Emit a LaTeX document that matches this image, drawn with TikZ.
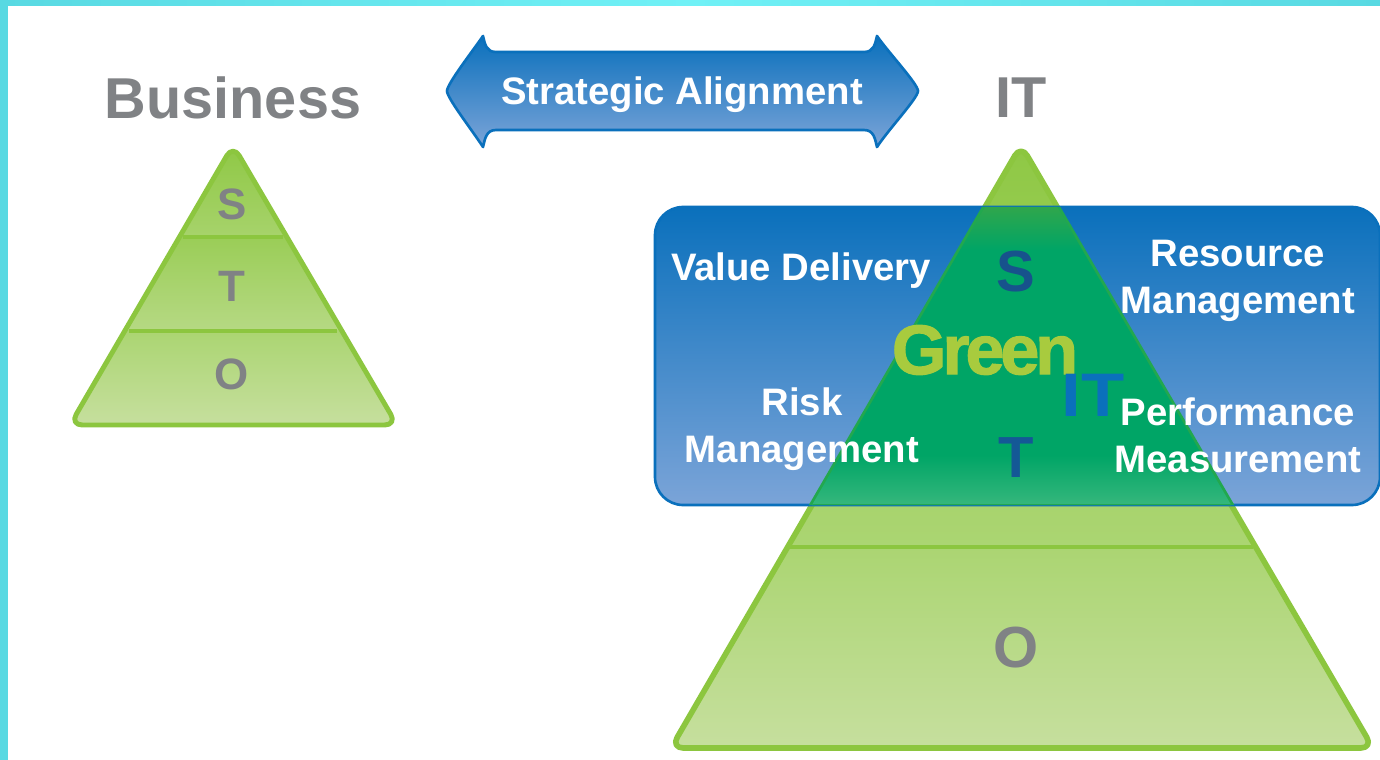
\documentclass[tikz,border=0pt]{standalone}
\usepackage{fontspec}
\usepackage{xcolor}
\setmainfont{Liberation Sans}
\newfontfamily\logofont[LetterSpace=-6,BoldFeatures={FakeBold=1.5}]{Liberation Sans}
\newfontfamily\logoitfont[BoldFeatures={FakeStretch=1.15}]{Liberation Sans}
\definecolor{framecyan}{HTML}{58D9E2}
\definecolor{framelight}{HTML}{70F1F6}
\definecolor{titlegrey}{HTML}{808285}
\definecolor{boxtop}{HTML}{0A70BC}
\definecolor{boxbottom}{HTML}{7BA4D8}
\definecolor{limeedge}{HTML}{8CC63F}
\definecolor{limetop}{HTML}{8FC845}
\definecolor{limemid}{HTML}{ABD572}
\definecolor{limelow}{HTML}{C6DF9E}
\definecolor{overlaptop}{HTML}{2FA64C}
\definecolor{overlapmid}{HTML}{00A566}
\definecolor{overlaplow}{HTML}{35B77C}
\definecolor{overlapedge}{HTML}{22A84E}
\definecolor{inkblue}{HTML}{17528C}
\definecolor{logolime}{HTML}{A8CB3E}
\tikzstyle{banner}    = [draw=boxtop, line width=1.5pt, top color=boxtop, bottom color=boxbottom]
\tikzstyle{titletext} = [text=titlegrey, font=\fontsize{32.8}{36}\selectfont\bfseries]
\tikzstyle{whitetext} = [text=white, align=center, font=\fontsize{21.8}{26.7}\selectfont\bfseries]
\tikzstyle{smallletter} = [text=titlegrey, font=\fontsize{25}{28}\selectfont\bfseries]
\tikzstyle{bigletter} = [font=\fontsize{33}{36}\selectfont\bfseries]
\tikzstyle{edge}      = [draw=limeedge, rounded corners=7pt, line join=round]
\def\bigpyramid{(1021,145) -- (1373,748) -- (671,748) -- cycle}
\def\smallpyramid{(233,145) -- (397,425) -- (70,425) -- cycle}
\def\valuebox{(655,207) rectangle (1380,505)}

\begin{document}
\begin{tikzpicture}[x=0.02cm,y=-0.02cm]
		\useasboundingbox (0,0) rectangle (1380,760);

		% frame
		\fill[white] (0,0) rectangle (1380,760);
		\fill[framecyan] (0,0) rectangle (8,760);
		\shade[left color=framecyan, right color=framecyan, middle color=framelight] (0,0) rectangle (1380,6);

		% small pyramid
		\begin{scope}
			\clip[rounded corners=7pt] \smallpyramid;
			\shade[top color=limetop, bottom color=limemid!85!limetop] (60,145) rectangle (400,237);
			\shade[top color=limetop!60!limemid, bottom color=limemid!60!limelow] (60,237) rectangle (400,331);
			\shade[top color=limemid, bottom color=limelow] (60,331) rectangle (400,425);
		\end{scope}
		\draw[edge, line width=2.8pt] \smallpyramid;
		\draw[limeedge, line width=2.6pt] (183,237) -- (283,237);
		\draw[limeedge, line width=2.6pt] (129,331) -- (337,331);

		% big pyramid
		\begin{scope}
			\clip[rounded corners=7pt] \bigpyramid;
			\shade[top color=limetop, bottom color=limemid] (660,145) rectangle (1380,547);
			\shade[top color=limemid, bottom color=limelow] (660,547) rectangle (1380,748);
		\end{scope}
		\draw[edge, line width=3.2pt] \bigpyramid;
		\draw[limeedge, line width=2.8pt] (790,547) -- (1253,547);

		% blue box and where it meets the pyramid
		\draw[banner, rounded corners=16pt] \valuebox;
		\begin{scope}
			\clip[rounded corners=16pt] \valuebox;
			\draw[edge, draw=overlapedge, line width=3.2pt] \bigpyramid;
			\clip \bigpyramid;
			\shade[top color=overlaptop, bottom color=overlapmid] (655,207) rectangle (1380,250);
			\fill[overlapmid] (655,250) rectangle (1380,455);
			\shade[top color=overlapmid, bottom color=overlaplow] (655,455) rectangle (1380,505);
			\draw[overlapedge, line width=1.5pt] (655,505) -- (1380,505);
		\end{scope}

		% double arrow
		\draw[banner, line join=round] (447,91) .. controls (447,84) and (472,52) .. (483,36)
			.. controls (485,44) and (486,52) .. (496,52) -- (864,52)
			.. controls (874,52) and (875,44) .. (877,36)
			.. controls (888,52) and (918,84) .. (918,91)
			.. controls (918,98) and (888,130) .. (877,147)
			.. controls (875,139) and (874,130) .. (864,130) -- (496,130)
			.. controls (486,130) and (485,139) .. (483,147)
			.. controls (472,130) and (447,98) .. (447,91) -- cycle;

		\node[whitetext] (alignment) at (682,95) {Strategic Alignment};
		\node[titletext] (business) at (233,98) {Business};
		\node[titletext] (it) at (1021,98) {IT};

		\node[smallletter] (smalls) at (232,204) {S};
		\node[smallletter] (smallt) at (232,286) {T};
		\node[smallletter] (smallo) at (232,374) {O};

		\node[bigletter, text=inkblue] (bigs) at (1016,272) {S};
		\node[bigletter, text=inkblue!80!boxtop] (bigt) at (1016,458) {T};
		\node[bigletter, text=titlegrey] (bigo) at (1016,648) {O};

		\node[whitetext] (value) at (801,271) {Value Delivery};
		\node[whitetext] (resource) at (1238,281) {Resource\\Management};
		\node[whitetext] (risk) at (802,429) {Risk\\Management};
		\node[whitetext] (performance) at (1238,435) {Performance\\Measurement};

		\node[text=logolime, font=\logofont\fontsize{40}{43}\selectfont\bfseries] (green) at (985,350) {Green};
		\node[text=boxtop, font=\logoitfont\fontsize{35}{38}\selectfont\bfseries] (greenit) at (1093,395) {IT};
	\end{tikzpicture}
\end{document}
